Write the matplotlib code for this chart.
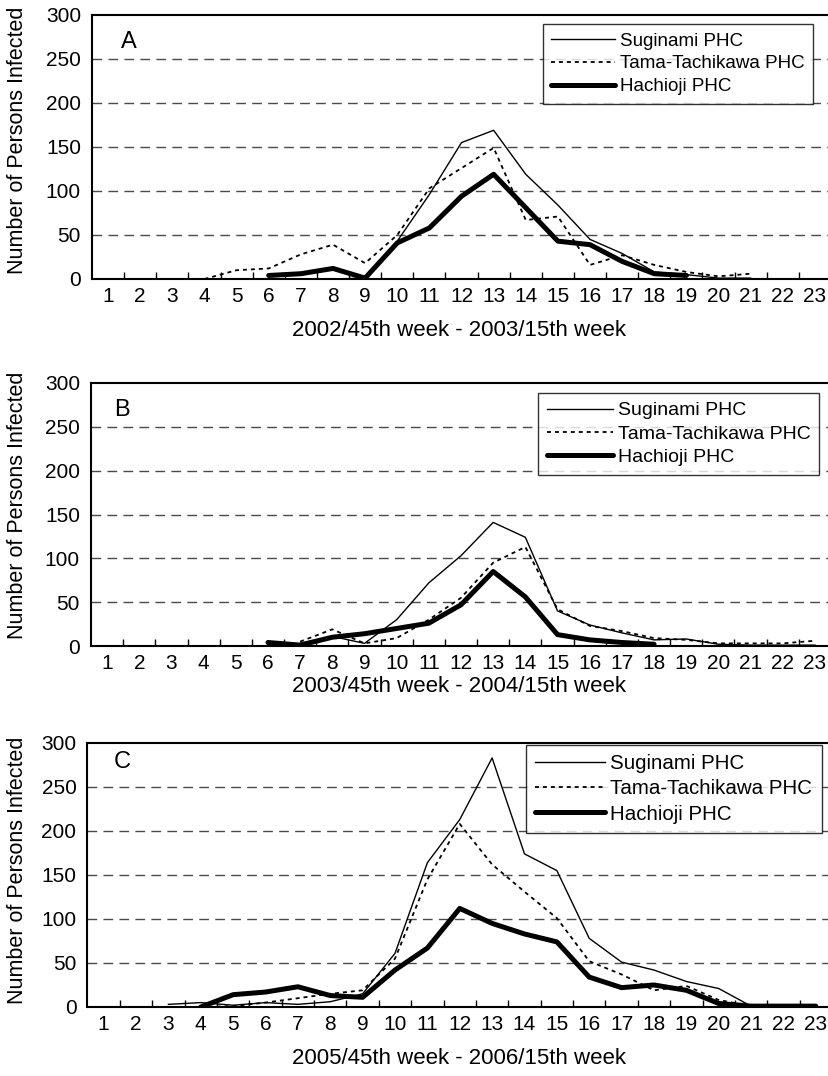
import numpy as np
import matplotlib
matplotlib.use("Agg")
import matplotlib.pyplot as plt

nan = np.nan
weeks = list(range(1, 24))
tick_labels = [str(w) for w in weeks]
series_names = ["Suginami PHC", "Tama-Tachikawa PHC", "Hachioji PHC"]
panel_letters = ["A", "B", "C"]
xlabels = ["2002/45th week - 2003/15th week",
           "2003/45th week - 2004/15th week",
           "2005/45th week - 2006/15th week"]
ylabel = "Number of Persons Infected"

# Panel A
sug_A = [nan, nan, nan, nan, nan, nan, nan, 0, 1, 43, 96, 155, 169, 119, 84, 45, 29, 8, 5, 1, 1, nan, nan]
tama_A = [nan, nan, nan, 0, 10, 12, 28, 39, 18, 50, 103, 126, 149, 67, 71, 16, 27, 16, 8, 3, 6, nan, nan]
hach_A = [nan, nan, nan, nan, nan, 4, 6, 12, 1, 41, 58, 94, 119, 81, 43, 39, 20, 6, 4, nan, nan, nan, nan]
# Panel B
sug_B = [nan, nan, nan, nan, nan, nan, 3, 11, 3, 30, 72, 103, 141, 124, 40, 24, 15, 7, 8, 2, 1, 1, 1]
tama_B = [nan, nan, nan, nan, nan, nan, 5, 19, 3, 9, 30, 55, 95, 113, 42, 23, 17, 9, 7, 3, 3, 3, 6]
hach_B = [nan, nan, nan, nan, nan, 4, 1, 10, 14, 20, 26, 47, 85, 56, 13, 7, 4, 2, nan, nan, nan, nan, nan]
# Panel C
sug_C = [nan, nan, 3, 5, 2, 5, 3, 6, 15, 61, 164, 213, 283, 174, 155, 78, 51, 42, 29, 21, 1, 0, 0]
tama_C = [nan, nan, nan, 0, 1, 5, 10, 15, 19, 55, 145, 208, 162, 131, 101, 52, 37, 19, 24, 8, 1, 0, 0]
hach_C = [nan, nan, nan, 0, 14, 17, 23, 13, 11, 42, 67, 112, 95, 83, 74, 34, 22, 25, 19, 4, 1, 1, 1]

panels = [(sug_A, tama_A, hach_A), (sug_B, tama_B, hach_B), (sug_C, tama_C, hach_C)]

plt.rcParams['font.family'] = ['Liberation Sans', 'DejaVu Sans']

W, H = 829, 1076
fig = plt.figure(figsize=(W / 100, H / 100), dpi=100)

# axes geometry in pixels: left, right, top, bottom
geoms = [(92, 831, 15, 279), (91, 831, 383, 646), (87.5, 832, 743, 1007)]
legend_tl = [(543, 24), (538, 393), (526, 745)]
legend_fs = [13.5, 14, 14.8]
letter_pos = [(129, 42), (122, 410), (122, 762)]
xlabel_y = [330, 686, 1058]
ylabel_y = [140, 505, 870]

for k, (l, r, t, b) in enumerate(geoms):
    ax = fig.add_axes([l / W, 1 - b / H, (r - l) / W, (b - t) / H])
    s, tm, h = panels[k]
    for yv in [50, 100, 150, 200, 250]:
        ax.axhline(yv, color='#4a4a4a', lw=1.0, ls=(0, (7, 4.5)), zorder=0.5)
    l1, = ax.plot(weeks, s, color='black', lw=1.0, zorder=3)
    l2, = ax.plot(weeks, tm, color='black', lw=1.3, ls=(0, (2.2, 2.2)), zorder=3)
    l3, = ax.plot(weeks, h, color='black', lw=3.6, zorder=4,
                  solid_capstyle='round', solid_joinstyle='round')
    ax.set_xlim(0.5, 23.5)
    ax.set_ylim(0, 300)
    ax.set_yticks([0, 50, 100, 150, 200, 250, 300])
    ax.set_xticks(weeks)
    ax.set_xticklabels(tick_labels)
    ax.set_xticks(np.arange(1.5, 23.5, 1.0), minor=True)
    ax.tick_params(axis='x', which='major', length=0, pad=6, labelsize=15)
    ax.tick_params(axis='x', which='minor', length=5, direction='in', width=1.0)
    ax.tick_params(axis='y', which='major', length=0, pad=8, labelsize=15)
    for sp in ax.spines.values():
        sp.set_linewidth(1.5)
        sp.set_color('black')
    ax.text((letter_pos[k][0] - l) / (r - l), (b - letter_pos[k][1]) / (b - t), panel_letters[k],
            transform=ax.transAxes, fontsize=17, ha='center', va='center')
    lx, ly = legend_tl[k]
    leg = fig.legend(handles=[l1, l2, l3], labels=series_names, loc='upper left',
                     bbox_to_anchor=(lx / W, 1 - ly / H), bbox_transform=fig.transFigure,
                     fontsize=legend_fs[k], frameon=True, fancybox=False, borderaxespad=0,
                     handlelength=3.4, handletextpad=0.25, labelspacing=0.3,
                     borderpad=0.45)
    leg.get_frame().set_edgecolor('black')
    leg.get_frame().set_linewidth(1.0)
    fig.text(459 / W, 1 - xlabel_y[k] / H, xlabels[k], fontsize=16, ha='center', va='center')
    fig.text(18 / W, 1 - ylabel_y[k] / H, ylabel, fontsize=15.5, ha='center', va='center', rotation=90)

fig.savefig("out.png", dpi=100)
